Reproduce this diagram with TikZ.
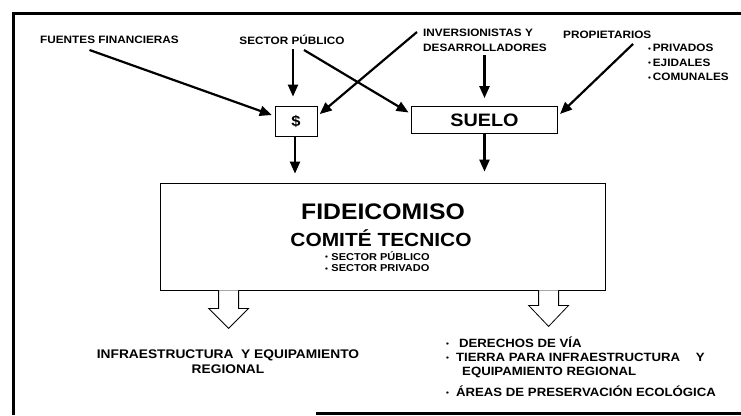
\documentclass[tikz,border=0pt]{standalone}
\usepackage{fontspec}
\setmainfont{Liberation Sans}[FakeStretch=1.1]
\usetikzlibrary{arrows.meta,calc}
\newcommand\bul{{\fontsize{7.5}{7.5}\selectfont\raisebox{0.1ex}{•}}}
\tikzset{
  lbl/.style={inner sep=0pt, font=\bfseries\fontsize{10.7}{14.5}\selectfont, align=left},
  big/.style={inner sep=0pt, anchor=west, font=\bfseries\fontsize{12}{15}\selectfont},
  box/.style={draw, line width=0.8pt, inner sep=0pt},
  arr/.style={line width=2.2pt, -{Triangle[length=12pt,width=10pt]}, shorten >=3pt},
  hollow/.style={draw, line width=0.8pt, fill=white},
  frame/.style={line width=3pt}
}
\begin{document}
\begin{tikzpicture}[x=1pt,y=-1pt]
\useasboundingbox (0,0) rectangle (741,415);
% frame
\draw[frame] (13,415) -- (13,13) -- (741,13);
\draw[frame] (316,413) -- (741,413);
% top labels
\node[lbl,anchor=west] (ff) at (40,40) {FUENTES FINANCIERAS};
\node[lbl] (sp) at (292,40) {SECTOR PÚBLICO};
\node[lbl,anchor=north west,align=left] (inv) at (423,29) {INVERSIONISTAS Y\\DESARROLLADORES};
\node[lbl,anchor=west] (prop) at (563,35) {PROPIETARIOS};
\node[lbl,anchor=west] (p1) at (648,48) {\bul\,PRIVADOS};
\node[lbl,anchor=west] (p2) at (648,62.5) {\bul\,EJIDALES};
\node[lbl,anchor=west] (p3) at (648,77) {\bul\,COMUNALES};
% boxes
\node[box,minimum width=42pt,minimum height=30pt,font=\bfseries\fontsize{15}{15}\selectfont] (dollar) at (296,121) {\$};
\node[box,minimum width=146pt,minimum height=27pt,font=\bfseries\fontsize{18}{18}\selectfont] (suelo) at (484.5,120) {SUELO};
\node[box,minimum width=445pt,minimum height=107pt] (fid) at (382.5,236.5) {};
\node[inner sep=0pt,font=\bfseries\fontsize{22.5}{22.5}\selectfont] (fidt) at (383,212) {FIDEICOMISO};
\node[inner sep=0pt,font=\bfseries\fontsize{19}{19}\selectfont] (com) at (381,238) {COMITÉ TECNICO};
\node[inner sep=0pt,anchor=west,font=\bfseries\fontsize{10}{12}\selectfont] (s1) at (325,256) {\bul\,\,SECTOR PÚBLICO};
\node[inner sep=0pt,anchor=west,font=\bfseries\fontsize{10}{12}\selectfont] (s2) at (325,268) {\bul\,\,SECTOR PRIVADO};
% arrows
\draw[arr] ([xshift=-20pt,yshift=-6pt]ff.south) -- ([yshift=5pt]dollar.west);
\draw[arr] ([xshift=1pt,yshift=-4pt]sp.south) -- ([xshift=-3pt,yshift=6pt]dollar.north);
\draw[arr] ([xshift=12pt,yshift=-5pt]sp.south) -- ([yshift=6pt]suelo.west);
\draw[arr] ([xshift=-6pt,yshift=-3pt]inv.north west) -- ([yshift=5pt]dollar.east);
\draw[arr] ([yshift=-4pt]suelo.north |- inv.south) -- ([yshift=5pt]suelo.north);
\draw[arr] ([xshift=70pt,yshift=-5pt]prop.south west) -- ([yshift=4pt]suelo.east);
\draw[arr] ([xshift=-1pt]dollar.south) -- ([xshift=-1pt,yshift=6pt]dollar.south |- fid.north);
\draw[arr] (suelo.south) -- ([yshift=8pt]suelo.south |- fid.north);
% hollow arrows
\coordinate (la) at ($(fid.south west)+(69,0)$);
\coordinate (ra) at ($(fid.south west)+(389,0)$);
\draw[hollow] ($(la)+(-10,0)$) -- ++(0,18) -- ++(-10,0) -- ($(la)+(0,38)$) -- ($(la)+(20,18)$) -- ++(-10,0) -- ++(0,-18);
\draw[hollow] ($(ra)+(-10,0)$) -- ++(0,15) -- ++(-10,0) -- ($(ra)+(0,36)$) -- ($(ra)+(20,15)$) -- ++(-10,0) -- ++(0,-15);
% bottom texts
\node[inner sep=0pt,align=center,font=\bfseries\fontsize{12.5}{15}\selectfont] (infra) at (228,362) {INFRAESTRUCTURA \ Y EQUIPAMIENTO\\REGIONAL};
\node[big] (l1) at (446,342) {\bul\hspace{10pt}DERECHOS DE VÍA};
\node[big] (l2) at (446,357) {\bul\hspace{7pt}TIERRA PARA INFRAESTRUCTURA \quad Y};
\node[big] (l3) at (462,372) {EQUIPAMIENTO REGIONAL};
\node[big] (l4) at (446,391) {\bul\hspace{7pt}ÁREAS DE PRESERVACIÓN ECOLÓGICA};
\end{tikzpicture}
\end{document}
